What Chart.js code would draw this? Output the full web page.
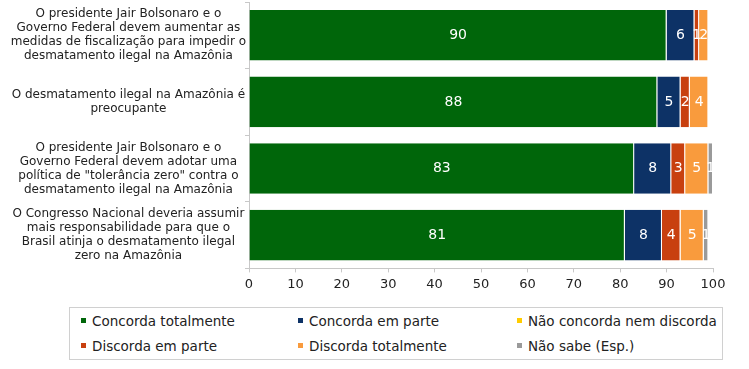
<!DOCTYPE html>
<html>
<head>
<meta charset="utf-8">
<script src="https://cdn.jsdelivr.net/npm/chart.js@4/dist/chart.umd.min.js"></script>
<style>
  body { margin: 0; background: #fff; font-family: "DejaVu Sans", Verdana, sans-serif; }
  #wrap { position: relative; width: 749px; height: 300px; }
  #legend {
    position: absolute; left: 69px; top: 307px; width: 654px; height: 53px;
    border: 1px solid #d0d0d0; box-sizing: border-box;
    display: grid; grid-template-columns: 217px 219px 1fr; grid-auto-rows: 25px;
    padding: 0 0 0 11px; font-size: 13.5px; color: #222;
  }
  #legend span.item { display: flex; align-items: center; white-space: nowrap; }
  #legend i { display: inline-block; width: 5px; height: 5px; margin-right: 6px; }
</style>
</head>
<body>
<div id="wrap"><canvas id="chart" width="749" height="300"></canvas></div>
<div id="legend"></div>
<script>
// perguntas (eixo vertical)
const categories = [
  ['O presidente Jair Bolsonaro e o', 'Governo Federal devem aumentar as', 'medidas de fiscalização para impedir o', 'desmatamento ilegal na Amazônia'],
  ['O desmatamento ilegal na Amazônia é', 'preocupante'],
  ['O presidente Jair Bolsonaro e o', 'Governo Federal devem adotar uma', 'política de "tolerância zero" contra o', 'desmatamento ilegal na Amazônia'],
  ['O Congresso Nacional deveria assumir', 'mais responsabilidade para que o', 'Brasil atinja o desmatamento ilegal', 'zero na Amazônia']
];

const concordaTotalmente = [90, 88, 83, 81];
const concordaEmParte = [6, 5, 8, 8];
const naoConcordaNemDiscorda = [0, 0, 0, 0];
const discordaEmParte = [1, 2, 3, 4];
const discordaTotalmente = [2, 4, 5, 5];
const naoSabe = [0, 0, 1, 1];

const xTicks = [0, 10, 20, 30, 40, 50, 60, 70, 80, 90, 100];

const series = [
  { label: 'Concorda totalmente', data: concordaTotalmente, color: '#00660a' },
  { label: 'Concorda em parte', data: concordaEmParte, color: '#0d3266' },
  { label: 'Não concorda nem discorda', data: naoConcordaNemDiscorda, color: '#ffcc00' },
  { label: 'Discorda em parte', data: discordaEmParte, color: '#c8400f' },
  { label: 'Discorda totalmente', data: discordaTotalmente, color: '#f99b3d' },
  { label: 'Não sabe (Esp.)', data: naoSabe, color: '#9a9a9a' }
];

// escreve os valores dentro das barras
const valueLabels = {
  id: 'valueLabels',
  afterDatasetsDraw(chart) {
    const ctx = chart.ctx;
    ctx.save();
    ctx.fillStyle = '#fff';
    ctx.font = '14px "DejaVu Sans", Verdana, sans-serif';
    ctx.textAlign = 'center';
    ctx.textBaseline = 'middle';
    chart.data.datasets.forEach((ds, i) => {
      chart.getDatasetMeta(i).data.forEach((bar, j) => {
        const v = ds.data[j];
        if (!v) return;
        const x = (bar.x + bar.base) / 2;
        ctx.fillText(String(v), x, bar.y);
      });
    });
    ctx.restore();
  }
};

const chart = new Chart(document.getElementById('chart'), {
  type: 'bar',
  data: {
    labels: categories,
    datasets: series.map(s => ({
      label: s.label,
      data: s.data,
      backgroundColor: s.color,
      borderColor: '#fff',
      borderWidth: { left: 0, right: 1, top: 0, bottom: 0 },
      borderSkipped: false,
      barPercentage: 0.76,
      categoryPercentage: 1
    }))
  },
  options: {
    indexAxis: 'y',
    responsive: false,
    animation: false,
    layout: { autoPadding: false, padding: { top: 2, right: 36, bottom: 4, left: 0 } },
    plugins: {
      legend: { display: false },
      tooltip: { enabled: false }
    },
    scales: {
      x: {
        stacked: true,
        min: 0,
        max: 100,
        afterBuildTicks: scale => { scale.ticks = xTicks.map(v => ({ value: v })); },
        grid: { drawOnChartArea: false, tickLength: 4, color: '#c8c8c8' },
        border: { color: '#c8c8c8' },
        ticks: { color: '#222', font: { family: '"DejaVu Sans", Verdana, sans-serif', size: 13 }, padding: 4, maxRotation: 0 }
      },
      y: {
        stacked: true,
        afterFit: scale => {
          scale.width = 249;
          scale.paddingTop = 0;
          scale.paddingBottom = 0;
        },
        grid: { drawOnChartArea: false, offset: true, tickLength: 4, color: '#c8c8c8' },
        border: { color: '#c8c8c8' },
        ticks: {
          color: '#222',
          crossAlign: 'center',
          padding: -1,
          font: { family: '"DejaVu Sans", Verdana, sans-serif', size: 12, lineHeight: 1.17 }
        }
      }
    }
  },
  plugins: [valueLabels]
});

// legenda em HTML, em três colunas
const legend = document.getElementById('legend');
chart.data.datasets.forEach(ds => {
  const item = document.createElement('span');
  item.className = 'item';
  const box = document.createElement('i');
  box.style.background = ds.backgroundColor;
  item.appendChild(box);
  item.appendChild(document.createTextNode(ds.label));
  legend.appendChild(item);
});
</script>
</body>
</html>
